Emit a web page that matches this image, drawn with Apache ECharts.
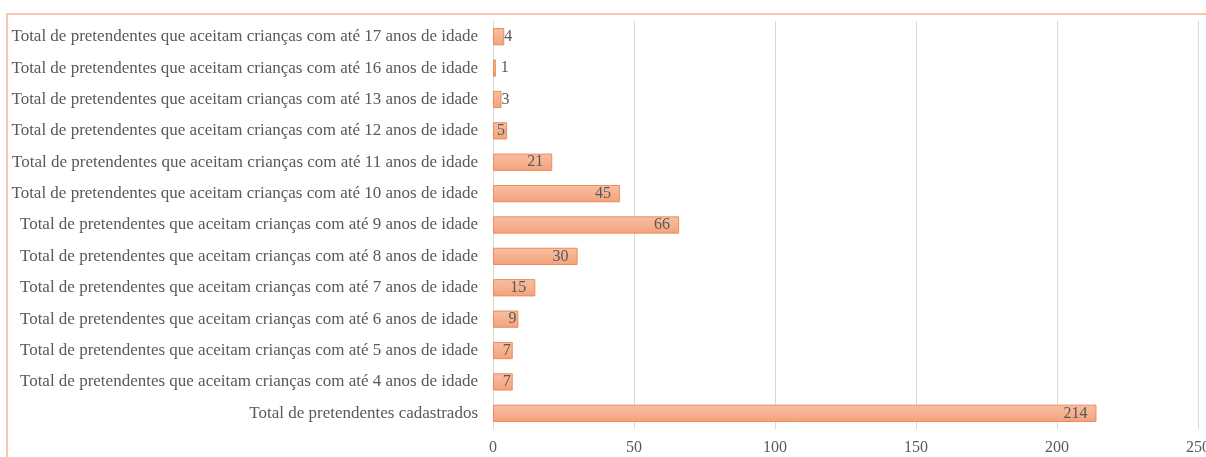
<!DOCTYPE html>
<html>
<head>
<meta charset="utf-8">
<script src="https://cdn.jsdelivr.net/npm/echarts@6/dist/echarts.min.js"></script>
<style>
html,body{margin:0;padding:0;background:#fff;}
#chart{width:1206px;height:457px;}
</style>
</head>
<body>
<div id="chart"></div>
<script>
const categories = [
  "Total de pretendentes cadastrados",
  "Total de pretendentes que aceitam crianças com até 4 anos de idade",
  "Total de pretendentes que aceitam crianças com até 5 anos de idade",
  "Total de pretendentes que aceitam crianças com até 6 anos de idade",
  "Total de pretendentes que aceitam crianças com até 7 anos de idade",
  "Total de pretendentes que aceitam crianças com até 8 anos de idade",
  "Total de pretendentes que aceitam crianças com até 9 anos de idade",
  "Total de pretendentes que aceitam crianças com até 10 anos de idade",
  "Total de pretendentes que aceitam crianças com até 11 anos de idade",
  "Total de pretendentes que aceitam crianças com até 12 anos de idade",
  "Total de pretendentes que aceitam crianças com até 13 anos de idade",
  "Total de pretendentes que aceitam crianças com até 16 anos de idade",
  "Total de pretendentes que aceitam crianças com até 17 anos de idade"
];
const values = [214, 7, 7, 9, 15, 30, 66, 45, 21, 5, 3, 1, 4];
const xTicks = { min: 0, max: 250, interval: 50 };

const font = '"Liberation Serif", "Times New Roman", "DejaVu Serif", serif';
const chart = echarts.init(document.getElementById('chart'));
const data = values.map(v => ({
  value: v,
  label: v < 5 ? { position: 'right', distance: v < 2 ? 5 : 0 } : { position: 'insideRight', distance: v < 10 ? 2 : 9 }
}));
chart.setOption({
  animation: false,
  backgroundColor: '#fff',
  graphic: [{
    type: 'rect', silent: true,
    shape: { x: 7, y: 14, width: 1400, height: 700 },
    style: { fill: 'none', stroke: '#F8C6AE', lineWidth: 2 }
  }],
  grid: { left: 493, right: 8, top: 21, bottom: 28, containLabel: false, outerBoundsMode: 'none' },
  xAxis: {
    type: 'value', min: xTicks.min, max: xTicks.max, interval: xTicks.interval,
    axisLine: { show: false }, axisTick: { show: false },
    splitLine: { show: true, lineStyle: { color: '#D9D9D9', width: 1 } },
    axisLabel: { color: '#595959', fontFamily: font, fontSize: 16, margin: 11, hideOverlap: false }
  },
  yAxis: {
    type: 'category', data: categories,
    axisLine: { show: true, lineStyle: { color: '#D9D9D9' } },
    axisTick: { show: false },
    axisLabel: { color: '#595959', fontFamily: font, fontSize: 17, margin: 15 }
  },
  series: [{
    type: 'bar', data: data, barCategoryGap: '45%',
    itemStyle: {
      color: new echarts.graphic.LinearGradient(0, 0, 0, 1, [
        { offset: 0, color: '#F7C0A2' },
        { offset: 1, color: '#F3A27C' }
      ]),
      borderColor: '#EB8C58', borderWidth: 1
    },
    label: { show: true, color: '#595959', fontFamily: font, fontSize: 16 }
  }]
});
</script>
</body>
</html>
